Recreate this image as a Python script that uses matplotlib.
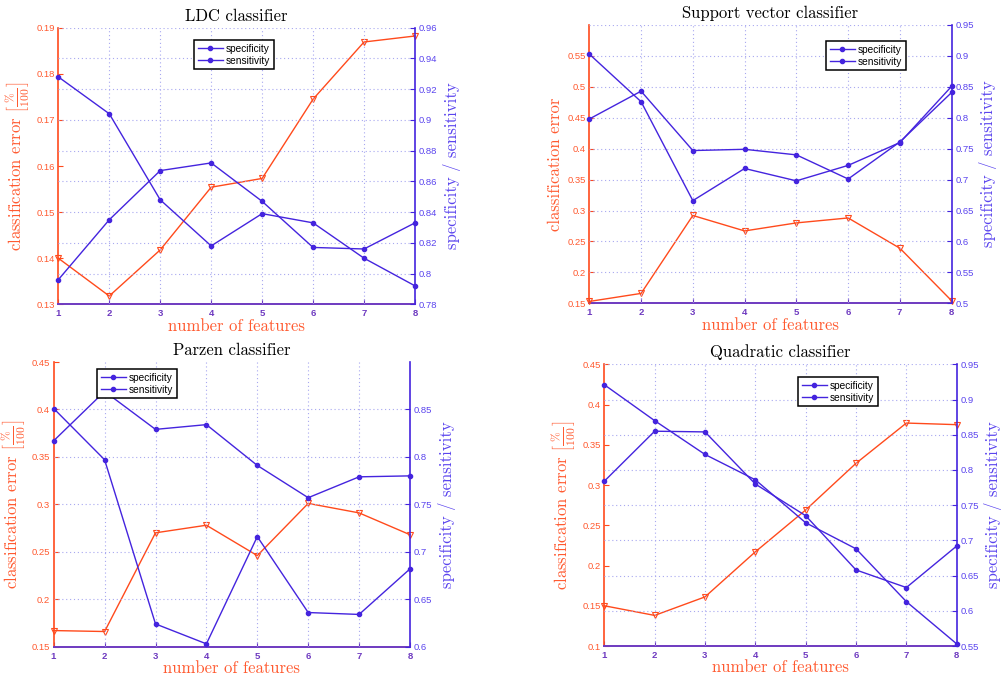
import matplotlib
matplotlib.use("Agg")
import matplotlib.pyplot as plt
from matplotlib.ticker import FixedLocator, FuncFormatter

# ---- data -------------------------------------------------------------
features = [1, 2, 3, 4, 5, 6, 7, 8]

ldc_error = [0.1400, 0.1318, 0.1418, 0.1554, 0.1573, 0.1745, 0.1869, 0.1882]
ldc_specificity = [0.928, 0.904, 0.848, 0.818, 0.839, 0.833, 0.810, 0.792]
ldc_sensitivity = [0.796, 0.835, 0.867, 0.872, 0.847, 0.817, 0.816, 0.833]

svc_error = [0.153, 0.166, 0.292, 0.267, 0.280, 0.288, 0.239, 0.154]
svc_specificity = [0.903, 0.826, 0.666, 0.718, 0.698, 0.723, 0.760, 0.851]
svc_sensitivity = [0.798, 0.843, 0.747, 0.749, 0.740, 0.701, 0.761, 0.841]

parzen_error = [0.167, 0.166, 0.270, 0.278, 0.246, 0.301, 0.291, 0.268]
parzen_specificity = [0.851, 0.797, 0.624, 0.603, 0.716, 0.636, 0.634, 0.682]
parzen_sensitivity = [0.817, 0.869, 0.829, 0.834, 0.791, 0.757, 0.779, 0.780]

quad_error = [0.150, 0.138, 0.161, 0.217, 0.269, 0.327, 0.377, 0.375]
quad_specificity = [0.921, 0.870, 0.822, 0.786, 0.725, 0.688, 0.613, 0.553]
quad_sensitivity = [0.784, 0.855, 0.854, 0.780, 0.735, 0.658, 0.633, 0.692]

titles = ["LDC classifier", "Support vector classifier",
          "Parzen classifier", "Quadratic classifier"]
legend_labels = ["specificity", "sensitivity"]

# ---- style ------------------------------------------------------------
RED = "#FF4A1C"
RED_TXT = "#FF5A30"
BLUE = "#4424DE"
BLUE_TXT = "#5A44EE"
PURPLE = "#6E3AC0"
GRID = "#A8A8F0"
SERIF = "cmr10"
SANS = ["Liberation Sans", "DejaVu Sans"]

plt.rcParams["mathtext.fontset"] = "cm"
plt.rcParams["axes.formatter.use_mathtext"] = True

W, H = 1001, 677
fig = plt.figure(figsize=(W / 100, H / 100), dpi=100)


def frac_rect(left, top, right, bottom):
    return [left / W, 1 - bottom / H, (right - left) / W, (bottom - top) / H]


fmt = FuncFormatter(lambda v, p: "%g" % round(v, 4))


def panel(rect, title, err, spec, sens, lim_l, ticks_l, lim_r, ticks_r,
          ylabel, leg_xy):
    ax = fig.add_axes(frac_rect(*rect))
    ax2 = ax.twinx()

    # left axis: classification error
    ax.plot(features, err, color=RED, lw=1.0, marker="v", ms=5,
            mfc="none", mec=RED, mew=0.8, clip_on=False, zorder=3)
    ax.set_xlim(1, 8)
    ax.set_ylim(*lim_l)
    ax.xaxis.set_major_locator(FixedLocator(features))
    ax.yaxis.set_major_locator(FixedLocator(ticks_l))
    ax.yaxis.set_major_formatter(fmt)
    ax.tick_params(axis="y", direction="in", length=3.5, width=0.8,
                   colors=RED, labelcolor=RED_TXT, labelsize=6.8, pad=2.5)
    ax.tick_params(axis="x", direction="in", length=3.5, width=0.8,
                   colors=PURPLE, labelsize=6.8, pad=3)
    for lab in ax.get_xticklabels():
        lab.set_family(SANS)
        lab.set_fontweight("bold")
    for lab in ax.get_yticklabels():
        lab.set_family(SANS)
    ax.spines["left"].set_color(RED)
    ax.spines["bottom"].set_color(PURPLE)
    ax.spines["left"].set_linewidth(1.2)
    ax.spines["bottom"].set_linewidth(1.4)
    ax.spines["top"].set_visible(False)
    ax.spines["right"].set_visible(False)
    ax.set_xlabel("number of features", family=SERIF, fontsize=12,
                  color=RED_TXT, labelpad=0)
    ax.set_ylabel(ylabel, family=SERIF, fontsize=12, color=RED_TXT,
                  labelpad=3)
    ax.set_title(title, family=SERIF, fontsize=12, color="black", pad=5)

    # right axis: specificity / sensitivity
    l1, = ax2.plot(features, spec, color=BLUE, lw=1.0, marker="o", ms=3,
                   clip_on=False, zorder=3)
    l2, = ax2.plot(features, sens, color=BLUE, lw=1.0, marker="o", ms=3,
                   clip_on=False, zorder=3)
    ax2.set_ylim(*lim_r)
    ax2.yaxis.set_major_locator(FixedLocator(ticks_r))
    ax2.yaxis.set_major_formatter(fmt)
    ax2.tick_params(axis="y", direction="in", length=3.5, width=0.8,
                    colors=BLUE, labelcolor=BLUE_TXT, labelsize=6.8, pad=2.5)
    for lab in ax2.get_yticklabels():
        lab.set_family(SANS)
    for s in ("left", "top", "bottom"):
        ax2.spines[s].set_visible(False)
    ax2.spines["right"].set_color(BLUE)
    ax2.spines["right"].set_linewidth(1.2)
    ax2.set_ylabel("specificity / sensitivity", family=SERIF, fontsize=12,
                   color=BLUE_TXT, labelpad=4)

    # dotted grid: verticals at each feature count, horizontals at right ticks
    for xv in features[1:-1]:
        ax2.axvline(xv, color=GRID, lw=0.8, ls=(0, (1, 2.5)), zorder=0)
    for yv in ticks_r:
        if lim_r[0] < yv <= lim_r[1]:
            ax2.axhline(yv, color=GRID, lw=0.8, ls=(0, (1, 2.5)), zorder=0)

    leg = ax2.legend([l1, l2], legend_labels, loc="upper left",
                     bbox_to_anchor=(leg_xy[0] / W, 1 - leg_xy[1] / H),
                     bbox_transform=fig.transFigure, borderaxespad=0,
                     prop={"family": SANS, "size": 7.3},
                     handlelength=2.5, handletextpad=0.3, borderpad=0.35,
                     labelspacing=0.2, fancybox=False, framealpha=1,
                     numpoints=1)
    leg.get_frame().set_edgecolor("black")
    leg.get_frame().set_linewidth(1.1)
    return ax, ax2


err_label = r"classification error $\left[\frac{\%}{100}\right]$"

panel((58.3, 27.7, 415, 304.3), titles[0], ldc_error, ldc_specificity,
      ldc_sensitivity, (0.13, 0.19), [0.13, 0.14, 0.15, 0.16, 0.17, 0.18, 0.19],
      (0.78, 0.96), [0.78, 0.80, 0.82, 0.84, 0.86, 0.88, 0.90, 0.92, 0.94, 0.96],
      err_label, (194, 40))

panel((589.3, 25, 951.7, 303.3), titles[1], svc_error, svc_specificity,
      svc_sensitivity, (0.15, 0.60),
      [0.15, 0.20, 0.25, 0.30, 0.35, 0.40, 0.45, 0.50, 0.55],
      (0.50, 0.95),
      [0.50, 0.55, 0.60, 0.65, 0.70, 0.75, 0.80, 0.85, 0.90, 0.95],
      "classification error", (826, 41))

panel((53.7, 362, 410, 646.7), titles[2], parzen_error, parzen_specificity,
      parzen_sensitivity, (0.15, 0.45),
      [0.15, 0.20, 0.25, 0.30, 0.35, 0.40, 0.45],
      (0.60, 0.90), [0.60, 0.65, 0.70, 0.75, 0.80, 0.85],
      err_label, (97, 369))

panel((604.3, 364.3, 956.7, 646), titles[3], quad_error, quad_specificity,
      quad_sensitivity, (0.10, 0.45),
      [0.10, 0.15, 0.20, 0.25, 0.30, 0.35, 0.40, 0.45],
      (0.55, 0.95),
      [0.55, 0.60, 0.65, 0.70, 0.75, 0.80, 0.85, 0.90, 0.95],
      err_label, (798, 377))

fig.savefig("out.png", dpi=100)
